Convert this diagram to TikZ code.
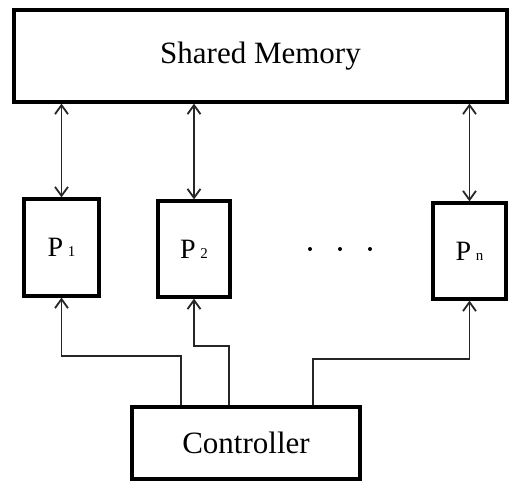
\documentclass[tikz,border=0pt]{standalone}
\usepackage{fontspec}
\setmainfont{Liberation Serif}
\usetikzlibrary{arrows.meta}
\begin{document}
\begin{tikzpicture}[x=1pt,y=-1pt,
  box/.style={draw, line width=3.2pt, inner sep=0pt, font=\fontsize{31}{35}\selectfont},
  pbox/.style={box, font=\fontsize{28}{31}\selectfont},
  conn/.style={line width=1.1pt, black!85},
  barb/.style={Straight Barb[length=9pt,width=13pt,line width=1.8pt]},
  tip/.style={-{Straight Barb[length=9pt,width=13pt,line width=1.8pt]}},
  dtip/.style={{Straight Barb[length=9pt,width=13pt,line width=1.8pt]}-{Straight Barb[length=9pt,width=13pt,line width=1.8pt]}}]
\useasboundingbox (0,0) rectangle (512,482);
\node[box, minimum width=493pt, minimum height=92pt] (mem) at (260.5,56) {Shared Memory};
\node[pbox, minimum width=75pt, minimum height=97pt] (p1) at (61.5,247.5) {P\,{\fontsize{15}{17}\selectfont 1}};
\node[pbox, minimum width=72pt, minimum height=96pt] (p2) at (194,249) {P\,{\fontsize{15}{17}\selectfont 2}};
\node[pbox, minimum width=73pt, minimum height=96pt] (pn) at (469.5,251) {P\,{\fontsize{15}{17}\selectfont n}};
\node[box, minimum width=228pt, minimum height=72pt] (ctrl) at (246,443) {Controller};
% memory links
\draw[conn, dtip] (p1.north |- mem.south) -- (p1.north);
\draw[conn, dtip] (p2.north |- mem.south) -- (p2.north);
\draw[conn, dtip] (pn.north |- mem.south) -- (pn.north);
% controller links
\coordinate (k1) at (181,356);
\coordinate (k2) at (229,346);
\coordinate (k3) at (313,359);
\draw[conn, tip] (k1 |- ctrl.north) -- (k1) -| (p1.south);
\draw[conn, tip] (k2 |- ctrl.north) -- (k2) -| (p2.south);
\draw[conn, tip] (k3 |- ctrl.north) -- (k3) -| (pn.south);
% ellipsis dots
\foreach \x in {310,340,370} \fill (\x,249) circle (2pt);
\end{tikzpicture}
\end{document}
